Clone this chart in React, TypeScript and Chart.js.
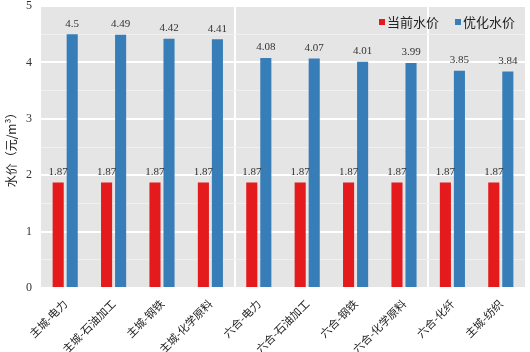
import React, { useEffect, useRef } from "react";
import { Chart, registerables } from "chart.js";

Chart.register(...registerables);

const categories = [
  "主城-电力",
  "主城-石油加工",
  "主城-钢铁",
  "主城-化学原料",
  "六合-电力",
  "六合-石油加工",
  "六合-钢铁",
  "六合-化学原料",
  "六合-化纤",
  "主城-纺织",
];
const currentPrice = [1.87, 1.87, 1.87, 1.87, 1.87, 1.87, 1.87, 1.87, 1.87, 1.87];
const optimizedPrice = [4.5, 4.49, 4.42, 4.41, 4.08, 4.07, 4.01, 3.99, 3.85, 3.84];
const seriesNames = ["当前水价", "优化水价"];
const separatorIndices = [4, 8];

const RED = "#e41a1c";
const BLUE = "#377eb8";
const CJK = '"Noto Sans CJK SC", "Noto Sans", sans-serif';
const SERIF = '"Liberation Serif", "DejaVu Serif", serif';

const bgPlugin = {
  id: "plotBg",
  beforeDraw(chart: any) {
    const { ctx, chartArea } = chart;
    ctx.save();
    ctx.fillStyle = "#e5e5e5";
    ctx.fillRect(chartArea.left, chartArea.top, chartArea.right - chartArea.left, chartArea.bottom - chartArea.top);
    ctx.restore();
  },
};

const labelPlugin = {
  id: "valueLabels",
  afterDatasetsDraw(chart: any) {
    const { ctx } = chart;
    ctx.save();
    ctx.font = `11px ${SERIF}`;
    ctx.fillStyle = "#333333";
    ctx.textAlign = "center";
    ctx.textBaseline = "bottom";
    chart.data.datasets.forEach((ds: any, di: number) => {
      const meta = chart.getDatasetMeta(di);
      meta.data.forEach((el: any, i: number) => {
        ctx.fillText(String(ds.data[i]), el.x, el.y - 5);
      });
    });
    ctx.restore();
  },
};

const legendPlugin = {
  id: "innerLegend",
  afterDraw(chart: any) {
    const { ctx, chartArea } = chart;
    ctx.save();
    ctx.font = `13px ${CJK}`;
    ctx.textBaseline = "middle";
    ctx.textAlign = "left";
    const y = chartArea.top + 16;
    const items = chart.data.datasets.map((ds: any) => ({ label: ds.label, color: ds.backgroundColor }));
    const box = 6;
    const gapBoxText = 2;
    const gapItems = 16;
    const widths = items.map((it: any) => box + gapBoxText + ctx.measureText(it.label).width);
    const total = widths.reduce((a: number, b: number) => a + b, 0) + gapItems * (items.length - 1);
    let x = chartArea.right - 10 - total;
    items.forEach((it: any, i: number) => {
      ctx.fillStyle = it.color;
      ctx.fillRect(x, y - box / 2, box, box);
      ctx.fillStyle = "#222222";
      ctx.fillText(it.label, x + box + gapBoxText, y);
      x += widths[i] + gapItems;
    });
    ctx.restore();
  },
};

export default function App() {
  const ref = useRef<HTMLCanvasElement>(null);
  useEffect(() => {
    if (!ref.current) return;
    const chart = new Chart(ref.current, {
      type: "bar",
      data: {
        labels: categories,
        datasets: [
          {
            label: seriesNames[0],
            data: currentPrice,
            backgroundColor: RED,
            categoryPercentage: 0.58,
            barPercentage: 0.79,
          },
          {
            label: seriesNames[1],
            data: optimizedPrice,
            backgroundColor: BLUE,
            categoryPercentage: 0.58,
            barPercentage: 0.79,
          },
        ],
      },
      options: {
        animation: false,
        responsive: false,
        maintainAspectRatio: false,
        layout: { padding: { top: 0, right: 5, left: 0, bottom: 0 } },
        plugins: {
          tooltip: { enabled: false },
          legend: { display: false },
        },
        scales: {
          x: {
            grid: {
              offset: true,
              drawTicks: false,
              color: (c: any) => (separatorIndices.includes(c.index) ? "#ffffff" : "rgba(0,0,0,0)"),
              lineWidth: 2,
            },
            border: { display: false },
            ticks: {
              minRotation: 45,
              maxRotation: 45,
              autoSkip: false,
              padding: 9,
              color: "#222222",
              font: { family: CJK, size: 11 },
            },
            afterFit(scale: any) {
              scale.height = 64;
              scale.paddingLeft = 0;
              scale.paddingRight = 0;
            },
          },
          y: {
            min: 0,
            max: 5,
            ticks: {
              stepSize: 0.5,
              padding: 9,
              color: "#333333",
              font: { family: SERIF, size: 12 },
              callback: (v: any) => (Number.isInteger(v) ? String(v) : ""),
            },
            grid: {
              drawTicks: false,
              color: (c: any) =>
                c.tick && Number.isInteger(c.tick.value) ? "#ffffff" : "#f0f0f0",
              lineWidth: (c: any) => (c.tick && Number.isInteger(c.tick.value) ? 2 : 1),
            },
            border: { display: false },
            title: {
              display: true,
              text: "水价（元/m³）",
              color: "#222222",
              font: { family: CJK, size: 12 },
              padding: { top: 4, bottom: 2 },
            },
            afterFit(scale: any) {
              scale.width = 41;
              scale.paddingTop = 6;
              scale.paddingBottom = 0;
            },
          },
        },
      },
      plugins: [bgPlugin, labelPlugin, legendPlugin],
    });
    return () => chart.destroy();
  }, []);
  return (
    <div style={{ position: "fixed", left: 0, top: 0, width: 530, height: 352, background: "#fff" }}>
      <canvas ref={ref} width={530} height={352} style={{ width: 530, height: 352 }} />
    </div>
  );
}
